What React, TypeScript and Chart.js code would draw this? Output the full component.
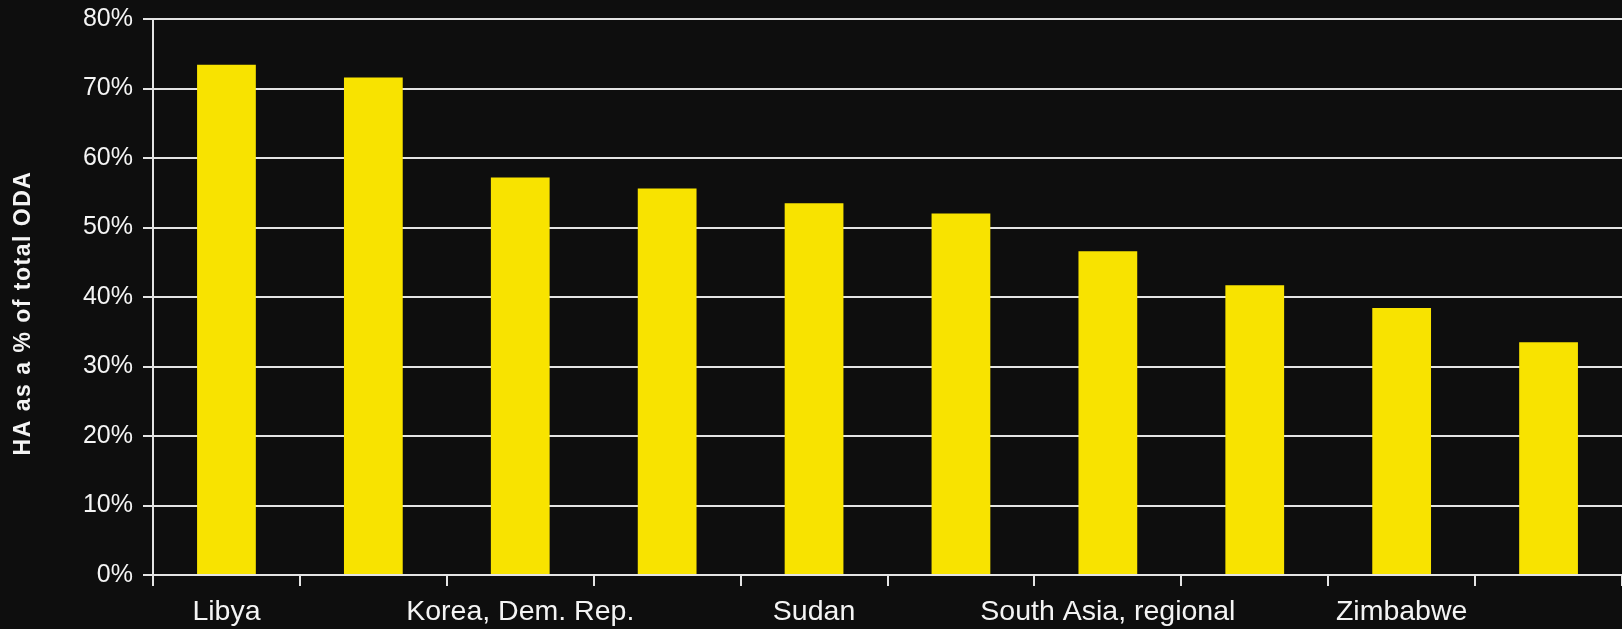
import React, { useEffect, useRef } from "react";
import { Chart, registerables } from "chart.js";

Chart.register(...registerables);

const categories: string[] = [
  "Libya",
  "Somalia",
  "Korea, Dem. Rep.",
  "Chad",
  "Sudan",
  "Myanmar",
  "South Asia, regional",
  "Central African Rep.",
  "Zimbabwe",
  "Lebanon",
];

const haShare: number[] = [73.4, 71.6, 57.2, 55.6, 53.5, 52.0, 46.6, 41.7, 38.4, 33.5];

const yTickValues: number[] = [0, 10, 20, 30, 40, 50, 60, 70, 80];

const yAxisTitle = "HA as a % of total ODA";

const FONT = '"Liberation Sans", Arial, sans-serif';
const BG = "#0e0e0e";
const BAR = "#f8e300";
const GRID = "#e4e4e4";
const TEXT = "#f4f4f4";

export default function App() {
  const ref = useRef<HTMLCanvasElement | null>(null);

  useEffect(() => {
    document.body.style.margin = "0";
    document.body.style.background = BG;
    const canvas = ref.current;
    if (!canvas) return;

    const titlePlugin = {
      id: "yTitle",
      afterDraw(chart: any) {
        const ctx = chart.ctx as CanvasRenderingContext2D;
        ctx.save();
        (ctx as any).letterSpacing = "1.5px";
        ctx.font = `bold 23px ${FONT}`;
        ctx.fillStyle = TEXT;
        ctx.textAlign = "center";
        ctx.textBaseline = "middle";
        ctx.translate(24, 313);
        ctx.rotate(-Math.PI / 2);
        ctx.fillText(yAxisTitle, 0, 0);
        ctx.restore();
      },
    };

    const chart = new Chart(canvas, {
      type: "bar",
      data: {
        labels: categories,
        datasets: [
          {
            data: haShare,
            backgroundColor: BAR,
            borderWidth: 0,
            barPercentage: 0.4,
            categoryPercentage: 1.0,
          },
        ],
      },
      options: {
        animation: false,
        responsive: false,
        maintainAspectRatio: false,
        layout: { padding: { top: 19, left: 0, right: 0, bottom: 0 } },
        plugins: {
          legend: { display: false },
          tooltip: { enabled: false },
          title: { display: false },
        },
        scales: {
          x: {
            grid: {
              display: true,
              drawOnChartArea: false,
              drawTicks: true,
              tickLength: 11,
              color: GRID,
              lineWidth: 2,
              offset: true,
            },
            border: { display: true, color: GRID, width: 2 },
            ticks: {
              autoSkip: false,
              maxRotation: 0,
              minRotation: 0,
              padding: 9,
              color: TEXT,
              font: { family: FONT, size: 28.5 },
              callback: (_v: any, i: number) => (i % 2 === 0 ? categories[i] : ""),
            },
            afterFit: (scale: any) => {
              scale.height = 54;
              scale.paddingLeft = 0;
              scale.paddingRight = 0;
            },
          },
          y: {
            min: 0,
            max: 80,
            grid: {
              display: true,
              drawOnChartArea: true,
              drawTicks: true,
              tickLength: 10,
              color: GRID,
              lineWidth: 2,
            },
            border: { display: true, color: GRID, width: 2 },
            afterBuildTicks: (scale: any) => {
              scale.ticks = yTickValues.map((v) => ({ value: v }));
            },
            ticks: {
              padding: 10,
              color: TEXT,
              font: { family: FONT, size: 25 },
              callback: (v: any) => `${v}%`,
            },
            afterFit: (scale: any) => {
              scale.width = 153;
              scale.paddingTop = 0;
              scale.paddingBottom = 0;
            },
          },
        },
      },
      plugins: [titlePlugin],
    });

    return () => chart.destroy();
  }, []);

  return (
    <div style={{ width: 1622, height: 629, background: BG }}>
      <canvas ref={ref} width={1622} height={629} style={{ display: "block", background: BG }} />
    </div>
  );
}
